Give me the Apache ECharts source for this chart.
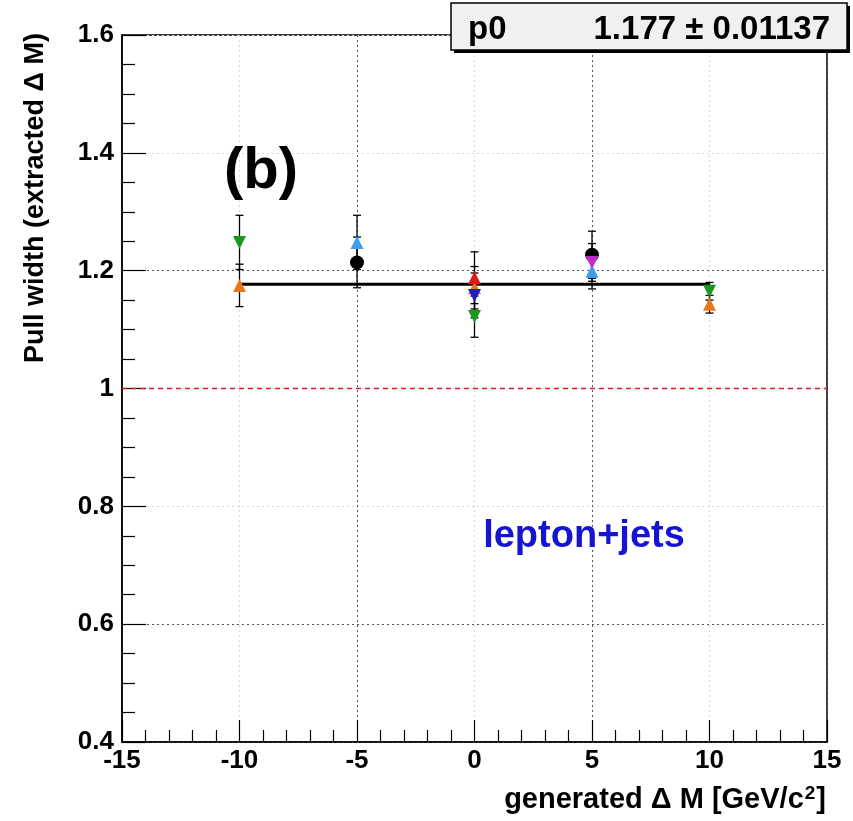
<!DOCTYPE html>
<html><head><meta charset="utf-8">
<script src="https://cdn.jsdelivr.net/npm/echarts@6/dist/echarts.min.js"></script>
<style>html,body{margin:0;padding:0;background:#fff}#c{width:853px;height:821px}</style>
</head><body><div id="c"></div><script>
// ---- data ----
const xRange = [-15, 15];
const yRange = [0.4, 1.6];
const fitValue = 1.177;
const fitError = 0.01137;
const fitRange = [-10, 10];
const refValue = 1.0;

const blackX = [-5, 5];      const blackY = [1.214, 1.227];      const blackErr = [0.043, 0.040];
const greenX = [-10, 0, 10]; const greenY = [1.248, 1.122, 1.165]; const greenErr = [0.046, 0.035, 0.015];
const orangeX = [-10, 0, 10];const orangeY = [1.175, 1.171, 1.143];const orangeErr = [0.036, 0.036, 0.015];
const ltblueX = [-5, 5];     const ltblueY = [1.248, 1.199];      const ltblueErr = [0.046, 0.030];
const redX = [0];            const redY = [1.188];                const redErr = [0.044];
const dkblueX = [0];         const dkblueY = [1.158];             const dkblueErr = [0.038];
const magentaX = [5];        const magentaY = [1.214];            const magentaErr = [0.032];

const FONT = 'Liberation Sans, Arial, Helvetica, sans-serif';

function pts(xs, ys, es) { return xs.map((x, i) => [x, ys[i], es[i]]); }

const groups = [
  {name:'black',   d:pts(blackX, blackY, blackErr),       color:'#000000', symbol:'circle',   size:14, rot:0},
  {name:'green',   d:pts(greenX, greenY, greenErr),       color:'#1c961c', symbol:'triangle', size:13, rot:180},
  {name:'orange',  d:pts(orangeX, orangeY, orangeErr),    color:'#f07418', symbol:'triangle', size:13, rot:0},
  {name:'ltblue',  d:pts(ltblueX, ltblueY, ltblueErr),    color:'#3a9ef0', symbol:'triangle', size:13, rot:0},
  {name:'red',     d:pts(redX, redY, redErr),             color:'#e01818', symbol:'triangle', size:13, rot:0},
  {name:'dkblue',  d:pts(dkblueX, dkblueY, dkblueErr),    color:'#2020c0', symbol:'triangle', size:13, rot:180},
  {name:'magenta', d:pts(magentaX, magentaY, magentaErr), color:'#c02cc8', symbol:'triangle', size:13, rot:180}
];

const series = [];
// reference line
series.push({type:'line', data:[[xRange[0], refValue],[xRange[1], refValue]], symbol:'none',
  lineStyle:{color:'#d42020', width:1.5, type:[5,4]}, z:3, silent:true});
// fit line
series.push({type:'line', data:[[fitRange[0], fitValue],[fitRange[1], fitValue]], symbol:'none',
  lineStyle:{color:'#000', width:3}, z:4, silent:true});
// error bars
groups.forEach(g => {
  series.push({type:'custom', data:g.d, z:5, silent:true,
    renderItem:(params, api) => {
      const x = api.value(0), y = api.value(1), e = api.value(2);
      const t = api.coord([x, y + e]), b = api.coord([x, y - e]);
      const st = {stroke:'#000', lineWidth:1.3};
      return {type:'group', children:[
        {type:'line', shape:{x1:t[0], y1:t[1], x2:b[0], y2:b[1]}, style:st},
        {type:'line', shape:{x1:t[0]-4, y1:t[1], x2:t[0]+4, y2:t[1]}, style:st},
        {type:'line', shape:{x1:b[0]-4, y1:b[1], x2:b[0]+4, y2:b[1]}, style:st}
      ]};
    }});
});
// markers
groups.forEach(g => {
  series.push({type:'scatter', name:g.name, data:g.d.map(p => [p[0], p[1]]), symbol:g.symbol,
    symbolSize:g.size, symbolRotate:g.rot, itemStyle:{color:g.color, opacity:1}, z:6});
});

const chart = echarts.init(document.getElementById('c'));
chart.setOption({
  animation:false,
  backgroundColor:'#fff',
  grid:{left:122, right:26, top:35, bottom:79, show:true, borderColor:'#000', borderWidth:1.5, backgroundColor:'transparent'},
  xAxis:{type:'value', min:xRange[0], max:xRange[1], interval:5,
    axisLine:{onZero:false, lineStyle:{color:'#000', width:1.5}},
    axisTick:{inside:true, length:22, lineStyle:{color:'#000', width:1.2}},
    minorTick:{show:true, splitNumber:5, length:12, lineStyle:{color:'#000', width:1.2}},
    axisLabel:{color:'#000', fontFamily:FONT, fontWeight:'bold', fontSize:26, margin:6},
    splitLine:{show:true, lineStyle:{type:[2,3], width:1, color:['#555','#d8d8d8']}}
  },
  yAxis:{type:'value', min:yRange[0], max:yRange[1], interval:0.2,
    axisLine:{onZero:false, lineStyle:{color:'#000', width:1.5}},
    axisTick:{inside:true, length:24, lineStyle:{color:'#000', width:1.2}},
    minorTick:{show:true, splitNumber:4, length:13, lineStyle:{color:'#000', width:1.2}},
    axisLabel:{color:'#000', fontFamily:FONT, fontWeight:'bold', fontSize:26, margin:8,
      formatter:v => (Math.round(v*10)/10).toString()},
    splitLine:{show:true, lineStyle:{type:[2,3], width:1, color:['#d8d8d8','#555','#d8d8d8']}}
  },
  graphic:[
    {type:'rect', shape:{x:454, y:6, width:396, height:47}, style:{fill:'#000'}, z:100},
    {type:'rect', shape:{x:451, y:3, width:396, height:47}, style:{fill:'#f0f0f0', stroke:'#000', lineWidth:1.5}, z:101},
    {type:'text', x:468, y:30, style:{text:'p0', fill:'#000', font:'bold 33px '+FONT, textVerticalAlign:'middle'}, z:102},
    {type:'text', x:830, y:30, style:{text:'1.177 \u00b1 0.01137', fill:'#000', font:'bold 33px '+FONT, textAlign:'right', textVerticalAlign:'middle'}, z:102},
    {type:'text', x:261, y:172, style:{text:'(b)', fill:'#000', font:'bold 58px '+FONT, textAlign:'center', textVerticalAlign:'middle'}, z:102},
    {type:'text', x:584, y:537, style:{text:'lepton+jets', fill:'#1414d2', font:'bold 38px '+FONT, textAlign:'center', textVerticalAlign:'middle'}, z:102},
    {type:'text', x:826, y:800, style:{
      text:'{a|generated \u0394 M [GeV/c}{s|2}{a|]}', textAlign:'right', textVerticalAlign:'middle',
      rich:{a:{fill:'#000', font:'bold 29px '+FONT, fontSize:29, fontWeight:'bold', fontFamily:FONT},
            s:{fill:'#000', fontSize:19, fontWeight:'bold', fontFamily:FONT, padding:[0,1,12,1]}}}, z:102},
    {type:'text', x:36, y:33, rotation:Math.PI/2, style:{text:'Pull width (extracted \u0394 M)', fill:'#000', font:'bold 27px '+FONT, textAlign:'right', textVerticalAlign:'middle'}, z:102}
  ],
  series:series
});
</script></body></html>
